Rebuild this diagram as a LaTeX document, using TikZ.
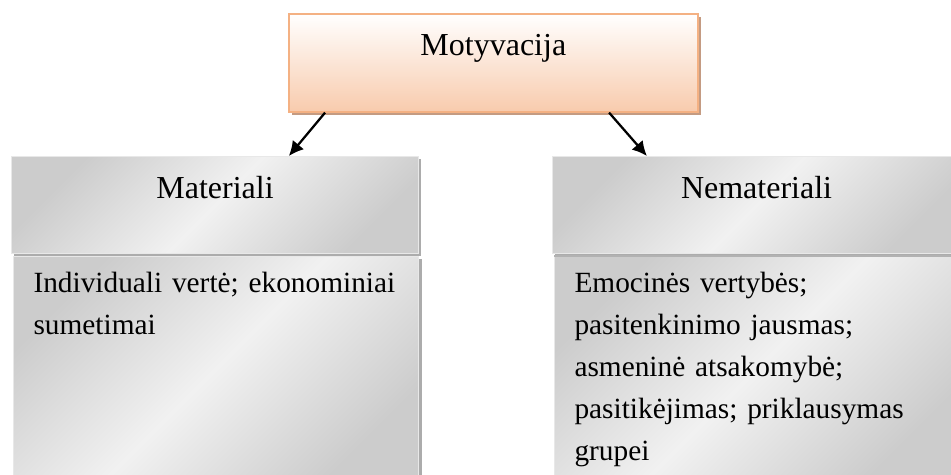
\documentclass[tikz,border=0pt]{standalone}
\usepackage{fontspec}
\setmainfont{Liberation Serif}
\usetikzlibrary{arrows.meta,shadows}
\definecolor{peach}{RGB}{248,203,173}
\definecolor{peachline}{RGB}{244,177,131}
\definecolor{peachshadow}{RGB}{196,155,130}

\begin{document}
\begin{tikzpicture}[
		x=0.375pt, y=-0.375pt,
		font=\fontsize{12}{15.75}\selectfont,
		topbox/.style={anchor=north west, draw=peachline, line width=0.6pt, top color=white, bottom color=peach, minimum width=153.4pt, inner sep=0pt, text height=15.75pt, text depth=21pt, drop shadow={shadow xshift=1.1pt, shadow yshift=-1.1pt, fill=peachshadow, opacity=1}},
		metal/.style={shade, left color=gray!40, right color=gray!40, middle color=gray!11, shading angle=45, draw=gray!18, line width=0.4pt, drop shadow={shadow xshift=1.1pt, shadow yshift=-1.1pt, fill=gray!65, opacity=1}},
		headbox/.style={metal, anchor=north west, minimum width=152.6pt, inner sep=0pt, text height=15.75pt, text depth=20.6pt},
		listbox/.style={metal, anchor=north west, align=left, text width=137pt, inner xsep=7.5pt, inner ysep=0pt, text height=13.5pt, text depth=70.5pt, font=\fontsize{11}{15.75}\selectfont},
		arrow/.style={-{Latex[length=5.5pt, width=5.5pt]}, line width=0.85pt},
	]
		\useasboundingbox (0,0) rectangle (951,474);
		\fill[white] (0,0) rectangle (951,474);
		\clip (0,0) rectangle (951,474);
		
		\node[topbox] (motyv) at (288,13) {Motyvacija};
		
		\node[headbox] (mat) at (11,156) {Materiali};
		\node[listbox] (matlist) at (13,256) {Individuali vertė; ekonominiai\\ sumetimai};
		
		\node[headbox, minimum width=153pt] (nemat) at (552,156) {Nemateriali};
		\node[listbox] (nematlist) at (554,256) {Emocinės vertybės;\\ pasitenkinimo jausmas;\\ asmeninė atsakomybė;\\ pasitikėjimas; priklausymas\\ grupei};
		\draw[gray!60, line width=0.8pt] (nematlist.north west) -- (nematlist.north east);
		
		\draw[arrow] ([xshift=13.9pt]motyv.south west) -- ([xshift=104.2pt]mat.north west);
		\draw[arrow] ([xshift=120.4pt]motyv.south west) -- ([xshift=35.6pt]nemat.north west);
	\end{tikzpicture}
\end{document}
